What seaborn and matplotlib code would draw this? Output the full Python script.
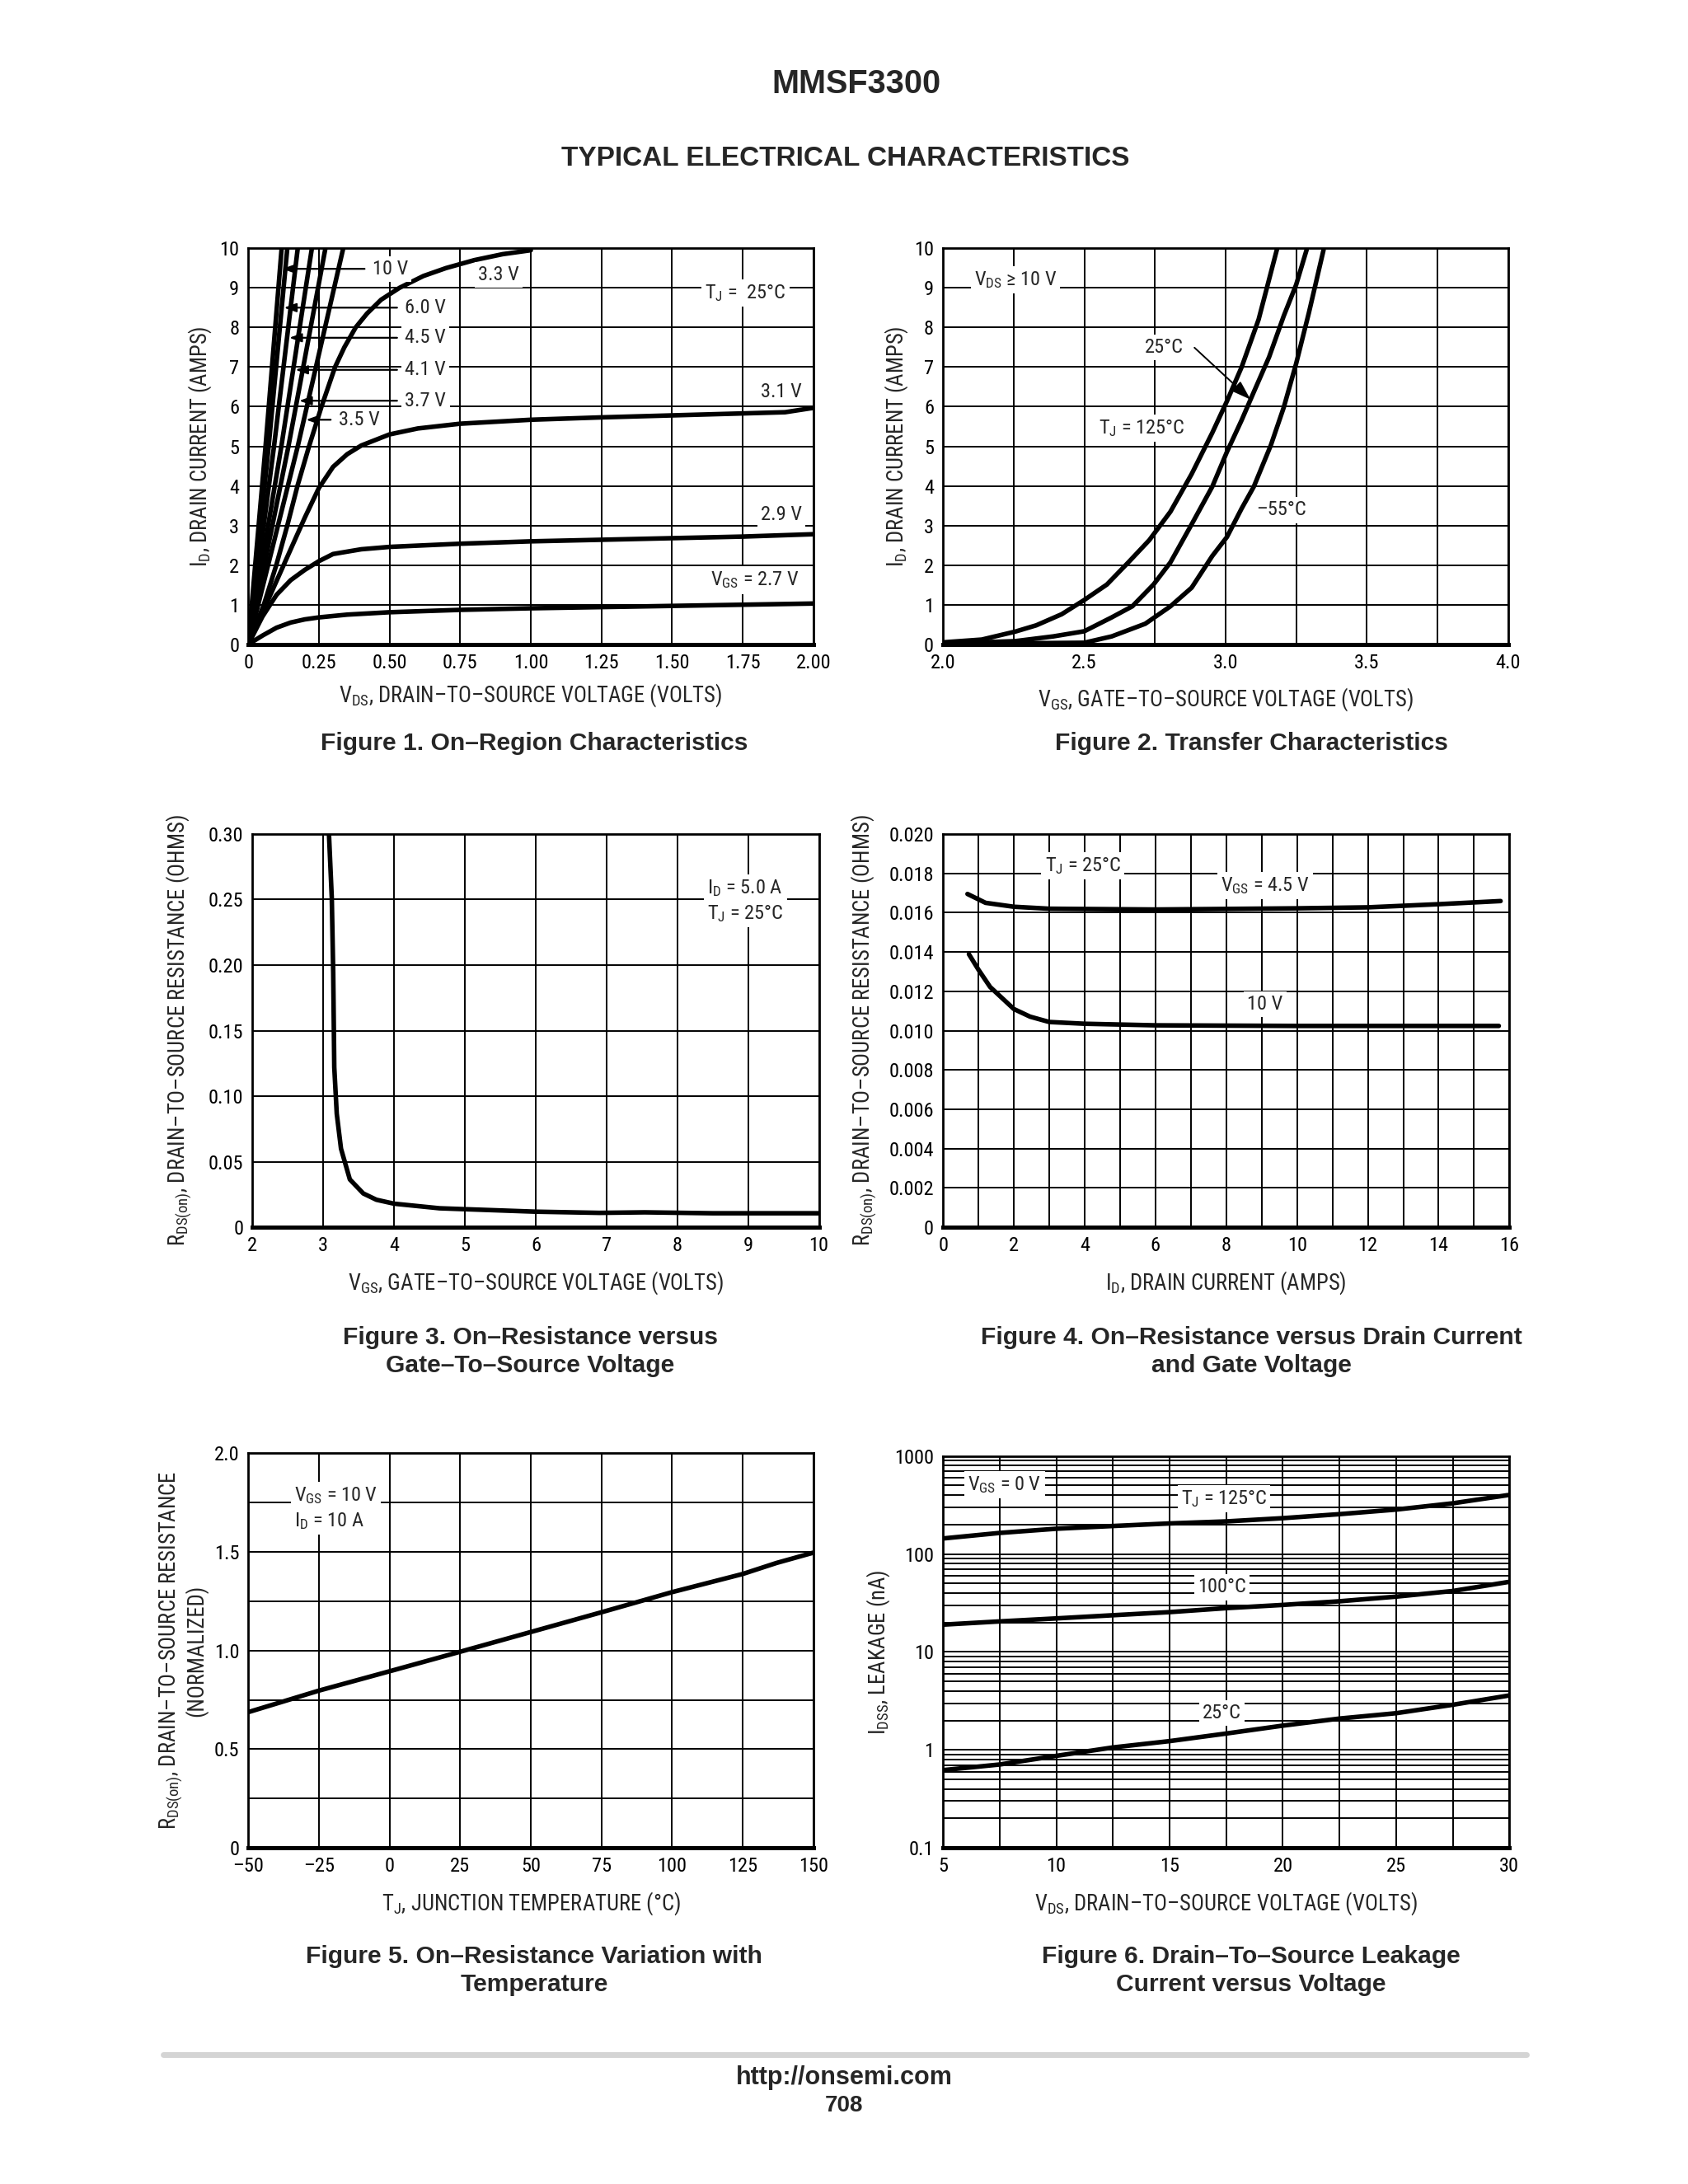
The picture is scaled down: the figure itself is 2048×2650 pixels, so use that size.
import numpy as np
import pandas as pd
import matplotlib
matplotlib.use("Agg")
import matplotlib.pyplot as plt
import matplotlib.font_manager as fm
import seaborn as sns
from matplotlib.lines import Line2D

# ---- data ----
# Figure 1: on-region, ID vs VDS per VGS
f1_vds_27 = [0, 0.05, 0.1, 0.15, 0.2, 0.25, 0.35, 0.5, 0.75, 1.0, 1.25, 1.5, 1.75, 2.0]
f1_id_27 = [0, 0.22, 0.42, 0.55, 0.63, 0.68, 0.75, 0.81, 0.87, 0.91, 0.94, 0.97, 1.0, 1.03]
f1_vds_29 = [0, 0.05, 0.1, 0.15, 0.2, 0.25, 0.3, 0.4, 0.5, 0.75, 1.0, 1.25, 1.5, 1.75, 2.0]
f1_id_29 = [0, 0.7, 1.25, 1.62, 1.88, 2.1, 2.28, 2.4, 2.46, 2.54, 2.6, 2.64, 2.68, 2.72, 2.78]
f1_vds_31 = [0, 0.05, 0.1, 0.15, 0.2, 0.25, 0.3, 0.35, 0.4, 0.5, 0.6, 0.75, 1.0, 1.25, 1.5, 1.75, 1.9, 2.0]
f1_id_31 = [0, 0.8, 1.6, 2.4, 3.2, 3.95, 4.48, 4.8, 5.02, 5.3, 5.45, 5.57, 5.67, 5.73, 5.78, 5.83, 5.86, 5.97]
f1_vds_33 = [0, 0.055, 0.099, 0.138, 0.174, 0.215, 0.259, 0.307, 0.34, 0.38, 0.42, 0.47, 0.535,
             0.62, 0.7, 0.8, 0.9, 1.0]
f1_id_33 = [0, 1, 2, 3, 4, 5, 6, 7, 7.5, 8, 8.35, 8.7, 9, 9.3, 9.5, 9.7, 9.85, 9.95]
f1_steep_vgs = ["3.5 V", "3.7 V", "4.1 V", "4.5 V", "6.0 V", "10 V"]
f1_steep_vds = [[0, 0.175, 0.336], [0, 0.142, 0.273], [0, 0.117, 0.225],
                [0, 0.091, 0.175], [0, 0.072, 0.138], [0, 0.061, 0.118]]
f1_steep_id = [0, 5, 10]

# Figure 2: transfer characteristics
f2_vgs_125 = [2.0, 2.137, 2.255, 2.33, 2.42, 2.5, 2.58, 2.656, 2.73, 2.805, 2.88, 2.953, 3.005, 3.057, 3.117, 3.183]
f2_id_125 = [0.05, 0.12, 0.32, 0.48, 0.76, 1.12, 1.51, 2.07, 2.63, 3.35, 4.3, 5.34, 6.14, 7.0, 8.2, 10.0]
f2_vgs_25 = [2.0, 2.255, 2.39, 2.5, 2.597, 2.67, 2.745, 2.805, 2.88, 2.953, 3.005, 3.057, 3.10, 3.154, 3.206, 3.25, 3.287]
f2_id_25 = [0.02, 0.08, 0.2, 0.33, 0.68, 0.96, 1.51, 2.07, 3.03, 3.98, 4.86, 5.66, 6.37, 7.25, 8.29, 9.08, 9.96]
f2_vgs_m55 = [2.0, 2.5, 2.597, 2.716, 2.805, 2.88, 2.953, 3.005, 3.057, 3.10, 3.16, 3.206, 3.25, 3.295, 3.347]
f2_id_m55 = [0.01, 0.04, 0.2, 0.52, 0.96, 1.43, 2.23, 2.71, 3.43, 3.98, 5.02, 5.98, 7.09, 8.37, 9.96]

# Figure 3: RDS(on) vs VGS
f3_vgs = [3.08, 3.12, 3.14, 3.155, 3.19, 3.25, 3.375, 3.565, 3.75, 4.0, 4.64, 5.0, 6.0, 6.9, 7.54, 8.5, 10.0]
f3_rds = [0.30, 0.251, 0.194, 0.122, 0.0866, 0.060, 0.0365, 0.0258, 0.021, 0.018, 0.0145, 0.0138,
          0.0119, 0.011, 0.0114, 0.0107, 0.0107]

# Figure 4: RDS(on) vs ID
f4_id_45 = [0.69, 1.2, 2.0, 3.0, 6.0, 10.0, 12.0, 14.0, 15.75]
f4_rds_45 = [0.01695, 0.0165, 0.0163, 0.0162, 0.01616, 0.01622, 0.01627, 0.01643, 0.01659]
f4_id_10 = [0.73, 1.0, 1.33, 2.0, 2.46, 3.0, 4.0, 6.0, 10.0, 15.7]
f4_rds_10 = [0.01389, 0.0131, 0.01222, 0.0111, 0.01071, 0.01044, 0.01035, 0.01027, 0.01024, 0.01024]

# Figure 5: normalized RDS(on) vs TJ
f5_tj = [-50, -25, 0, 25, 50, 75, 100, 125, 137, 150]
f5_rds = [0.688, 0.797, 0.895, 0.994, 1.094, 1.194, 1.296, 1.388, 1.444, 1.496]

# Figure 6: IDSS leakage vs VDS
f6_vds = [5, 7.5, 10, 12.5, 15, 17.5, 20, 22.5, 25, 27.5, 30]
f6_i_125 = [144, 164, 181, 193, 205, 215, 232, 255, 284, 329, 401]
f6_i_100 = [19.0, 20.5, 22.0, 23.7, 25.5, 28.0, 30.2, 32.9, 36.7, 41.9, 52.0]
f6_i_25 = [0.622, 0.71, 0.87, 1.06, 1.23, 1.47, 1.77, 2.09, 2.37, 2.89, 3.6]

# ---- style ----
sns.set_theme(style="white")
have = {f.name for f in fm.fontManager.ttflist}
narrow = "Liberation Sans"
for cand in ["Roboto Condensed", "Archivo Narrow", "PT Sans Narrow", "Fira Sans Condensed",
             "IBM Plex Sans Condensed", "Liberation Sans Narrow"]:
    if cand in have:
        narrow = cand
        break
plt.rcParams["font.family"] = [narrow, "DejaVu Sans"]
plt.rcParams["mathtext.fontset"] = "custom"
plt.rcParams["mathtext.rm"] = narrow
plt.rcParams["mathtext.it"] = narrow + ":italic"
plt.rcParams["mathtext.bf"] = narrow + ":bold"

TICK = 8.8
LAB = 9.6
LW = 2.0
WHITE = dict(fc="white", ec="none", pad=1.5)

fig = plt.figure(figsize=(10.24, 13.25), dpi=200)
W, H = 1210, 1566


def box(l, t, r, b):
    return [l / W, 1 - b / H, (r - l) / W, (b - t) / H]


def frame(ax):
    for s in ax.spines.values():
        s.set_linewidth(1.0)
        s.set_color("black")
    ax.spines["bottom"].set_linewidth(1.8)
    ax.grid(True, which="both", color="black", lw=0.7)
    ax.tick_params(which="both", length=0, labelsize=TICK, pad=4, colors="black")
    ax.set_axisbelow(True)


def curve(ax, x, y):
    sns.lineplot(x=x, y=y, ax=ax, color="black", lw=LW, estimator=None, sort=False)


ax1 = fig.add_axes(box(178, 178, 583, 462))
ax2 = fig.add_axes(box(676, 178, 1081, 462))
ax3 = fig.add_axes(box(181, 598, 587, 880))
ax4 = fig.add_axes(box(676, 598, 1082, 880))
ax5 = fig.add_axes(box(178, 1042, 583, 1325))
ax6 = fig.add_axes(box(676, 1044, 1082, 1325))

# ---- Figure 1 ----
curve(ax1, f1_vds_27, f1_id_27)
curve(ax1, f1_vds_29, f1_id_29)
curve(ax1, f1_vds_31, f1_id_31)
curve(ax1, f1_vds_33, f1_id_33)
for xs in f1_steep_vds:
    curve(ax1, xs, f1_steep_id)
ax1.set_xlim(0, 2)
ax1.set_ylim(0, 10)
ax1.set_xticks(np.arange(0, 2.01, 0.25))
ax1.set_xticklabels(["0", "0.25", "0.50", "0.75", "1.00", "1.25", "1.50", "1.75", "2.00"])
ax1.set_yticks(range(0, 11))
frame(ax1)
ax1.set_xlabel(r"$\mathrm{V_{DS}}$, DRAIN–TO–SOURCE VOLTAGE (VOLTS)", fontsize=LAB, labelpad=4)
ax1.set_ylabel(r"$\mathrm{I_D}$, DRAIN CURRENT (AMPS)", fontsize=LAB, labelpad=2.5)

f1_labels = [("10 V", 5, 0.44, 9.48), ("6.0 V", 4, 0.555, 8.5), ("4.5 V", 3, 0.555, 7.74),
             ("4.1 V", 2, 0.555, 6.93), ("3.7 V", 1, 0.555, 6.15), ("3.5 V", 0, 0.32, 5.67)]
for lab, k, tx, ty in f1_labels:
    tip = np.interp(ty, f1_steep_id, f1_steep_vds[k])
    ax1.annotate(lab, xy=(tip + 0.008, ty), xytext=(tx, ty), ha="left", va="center",
                 fontsize=TICK, bbox=WHITE,
                 arrowprops=dict(arrowstyle="-|>,head_length=0.5,head_width=0.18",
                                 color="black", lw=0.8, shrinkA=2, shrinkB=0))
ax1.text(0.885, 9.33, "3.3 V", ha="center", va="center", fontsize=TICK, bbox=WHITE)
ax1.text(1.76, 8.87, r"$\mathrm{T_J}$ =  25°C", ha="center", va="center", fontsize=TICK, bbox=WHITE)
ax1.text(1.96, 6.37, "3.1 V", ha="right", va="center", fontsize=TICK, bbox=WHITE)
ax1.text(1.96, 3.27, "2.9 V", ha="right", va="center", fontsize=TICK, bbox=WHITE)
ax1.text(1.95, 1.62, r"$\mathrm{V_{GS}}$ = 2.7 V", ha="right", va="center", fontsize=TICK, bbox=WHITE)

# ---- Figure 2 ----
curve(ax2, f2_vgs_125, f2_id_125)
curve(ax2, f2_vgs_25, f2_id_25)
curve(ax2, f2_vgs_m55, f2_id_m55)
ax2.set_xlim(2, 4)
ax2.set_ylim(0, 10)
ax2.set_xticks(np.arange(2, 4.01, 0.25))
ax2.set_xticklabels(["2.0", "", "2.5", "", "3.0", "", "3.5", "", "4.0"])
ax2.set_yticks(range(0, 11))
frame(ax2)
ax2.set_xlabel(r"$\mathrm{V_{GS}}$, GATE–TO–SOURCE VOLTAGE (VOLTS)", fontsize=LAB, labelpad=6)
ax2.set_ylabel(r"$\mathrm{I_D}$, DRAIN CURRENT (AMPS)", fontsize=LAB, labelpad=2)
ax2.text(2.11, 9.2, r"$\mathrm{V_{DS}}$ ≥ 10 V", ha="left", va="center", fontsize=TICK, bbox=WHITE)
ax2.text(2.715, 7.49, "25°C", ha="left", va="center", fontsize=TICK, bbox=WHITE)
tip25 = np.interp(6.18, f2_id_25, f2_vgs_25)
ax2.annotate("", xy=(tip25, 6.18), xytext=(2.89, 7.49),
             arrowprops=dict(arrowstyle="-|>,head_length=0.6,head_width=0.2",
                             color="black", lw=0.7, shrinkA=0, shrinkB=0))
ax2.text(2.55, 5.46, r"$\mathrm{T_J}$ = 125°C", ha="left", va="center", fontsize=TICK, bbox=WHITE)
ax2.text(3.11, 3.39, "–55°C", ha="left", va="center", fontsize=TICK, bbox=WHITE)

# ---- Figure 3 ----
curve(ax3, f3_vgs, f3_rds)
ax3.set_xlim(2, 10)
ax3.set_ylim(0, 0.30)
ax3.set_xticks(range(2, 11))
ax3.set_yticks(np.arange(0, 0.301, 0.05))
ax3.set_yticklabels(["0", "0.05", "0.10", "0.15", "0.20", "0.25", "0.30"])
frame(ax3)
ax3.set_xlabel(r"$\mathrm{V_{GS}}$, GATE–TO–SOURCE VOLTAGE (VOLTS)", fontsize=LAB, labelpad=6)
ax3.set_ylabel(r"$\mathrm{R_{DS(on)}}$, DRAIN–TO–SOURCE RESISTANCE (OHMS)", fontsize=LAB, labelpad=6.5)
ax3.text(8.42, 0.249, "$\\mathrm{I_D}$ = 5.0 A\n$\\mathrm{T_J}$ = 25°C", ha="left", va="center",
         fontsize=TICK, bbox=WHITE, linespacing=1.3)

# ---- Figure 4 ----
curve(ax4, f4_id_45, f4_rds_45)
curve(ax4, f4_id_10, f4_rds_10)
ax4.set_xlim(0, 16)
ax4.set_ylim(0, 0.020)
ax4.set_xticks(range(0, 17))
ax4.set_xticklabels([str(v) if v % 2 == 0 else "" for v in range(0, 17)])
ax4.set_yticks(np.arange(0, 0.0201, 0.002))
ax4.set_yticklabels(["0"] + ["%.3f" % v for v in np.arange(0.002, 0.0201, 0.002)])
frame(ax4)
ax4.set_xlabel(r"$\mathrm{I_D}$, DRAIN CURRENT (AMPS)", fontsize=LAB, labelpad=6)
ax4.set_ylabel(r"$\mathrm{R_{DS(on)}}$, DRAIN–TO–SOURCE RESISTANCE (OHMS)", fontsize=LAB, labelpad=4.5)
ax4.text(3.95, 0.0184, r"$\mathrm{T_J}$ = 25°C", ha="center", va="center", fontsize=TICK, bbox=WHITE)
ax4.text(9.1, 0.01738, r"$\mathrm{V_{GS}}$ = 4.5 V", ha="center", va="center", fontsize=TICK, bbox=WHITE)
ax4.text(9.1, 0.01135, "10 V", ha="center", va="center", fontsize=TICK, bbox=WHITE)

# ---- Figure 5 ----
curve(ax5, f5_tj, f5_rds)
ax5.set_xlim(-50, 150)
ax5.set_ylim(0, 2.0)
ax5.set_xticks(range(-50, 151, 25))
ax5.set_xticklabels([str(v).replace("-", "–") for v in range(-50, 151, 25)])
ax5.set_yticks(np.arange(0, 2.01, 0.25))
ax5.set_yticklabels(["0", "", "0.5", "", "1.0", "", "1.5", "", "2.0"])
frame(ax5)
ax5.set_xlabel(r"$\mathrm{T_J}$, JUNCTION TEMPERATURE (°C)", fontsize=LAB, labelpad=6)
ax5.set_ylabel("$\\mathrm{R_{DS(on)}}$, DRAIN–TO–SOURCE RESISTANCE\n(NORMALIZED)", fontsize=LAB,
               labelpad=2.5, linespacing=1.0)
ax5.text(-33.7, 1.72, "$\\mathrm{V_{GS}}$ = 10 V\n$\\mathrm{I_D}$ = 10 A", ha="left", va="center",
         fontsize=TICK, bbox=WHITE, linespacing=1.3)

# ---- Figure 6 ----
curve(ax6, f6_vds, f6_i_125)
curve(ax6, f6_vds, f6_i_100)
curve(ax6, f6_vds, f6_i_25)
ax6.set_yscale("log")
ax6.set_xlim(5, 30)
ax6.set_ylim(0.1, 1000)
ax6.set_xticks(np.arange(5, 30.01, 2.5))
ax6.set_xticklabels([("%g" % v) if v % 5 == 0 else "" for v in np.arange(5, 30.01, 2.5)])
ax6.set_yticks([0.1, 1, 10, 100, 1000])
ax6.set_yticklabels(["0.1", "1", "10", "100", "1000"])
ax6.yaxis.set_minor_locator(matplotlib.ticker.LogLocator(base=10, subs=np.arange(2, 10)))
ax6.yaxis.set_minor_formatter(matplotlib.ticker.NullFormatter())
frame(ax6)
ax6.set_xlabel(r"$\mathrm{V_{DS}}$, DRAIN–TO–SOURCE VOLTAGE (VOLTS)", fontsize=LAB, labelpad=6)
ax6.set_ylabel(r"$\mathrm{I_{DSS}}$, LEAKAGE (nA)", fontsize=LAB, labelpad=1)
ax6.text(6.1, 510, r"$\mathrm{V_{GS}}$ = 0 V", ha="left", va="center", fontsize=TICK, bbox=WHITE)
ax6.text(17.4, 367, r"$\mathrm{T_J}$ = 125°C", ha="center", va="center", fontsize=TICK, bbox=WHITE)
ax6.text(17.3, 45.7, "100°C", ha="center", va="center", fontsize=TICK, bbox=WHITE)
ax6.text(17.3, 2.37, "25°C", ha="center", va="center", fontsize=TICK, bbox=WHITE)

# ---- page text ----
BOLD = dict(family=["Liberation Sans", "DejaVu Sans"], weight="bold", ha="center", va="center")
fig.text(614 / W, 1 - 60 / H, "MMSF3300", fontsize=14.3, **BOLD)
fig.text(606 / W, 1 - 114 / H, "TYPICAL ELECTRICAL CHARACTERISTICS", fontsize=12, **BOLD)
caps = [(383, 533, "Figure 1. On–Region Characteristics"),
        (897, 533, "Figure 2. Transfer Characteristics"),
        (380, 969, "Figure 3. On–Resistance versus\nGate–To–Source Voltage"),
        (897, 969, "Figure 4. On–Resistance versus Drain Current\nand Gate Voltage"),
        (383, 1413, "Figure 5. On–Resistance Variation with\nTemperature"),
        (897, 1413, "Figure 6. Drain–To–Source Leakage\nCurrent versus Voltage")]
for cx, cy, s in caps:
    fig.text(cx / W, 1 - cy / H, s, fontsize=10.8, linespacing=1.25, **BOLD)

fig.add_artist(Line2D([117 / W, 1094 / W], [1 - 1473 / H] * 2, color="#d4d4d4", lw=2.5))
fig.text(605 / W, 1 - 1490 / H, "http://onsemi.com", fontsize=11, **BOLD)
fig.text(605 / W, 1 - 1510 / H, "708", fontsize=10, **BOLD)

fig.savefig("out.png", dpi=200, facecolor="white")
